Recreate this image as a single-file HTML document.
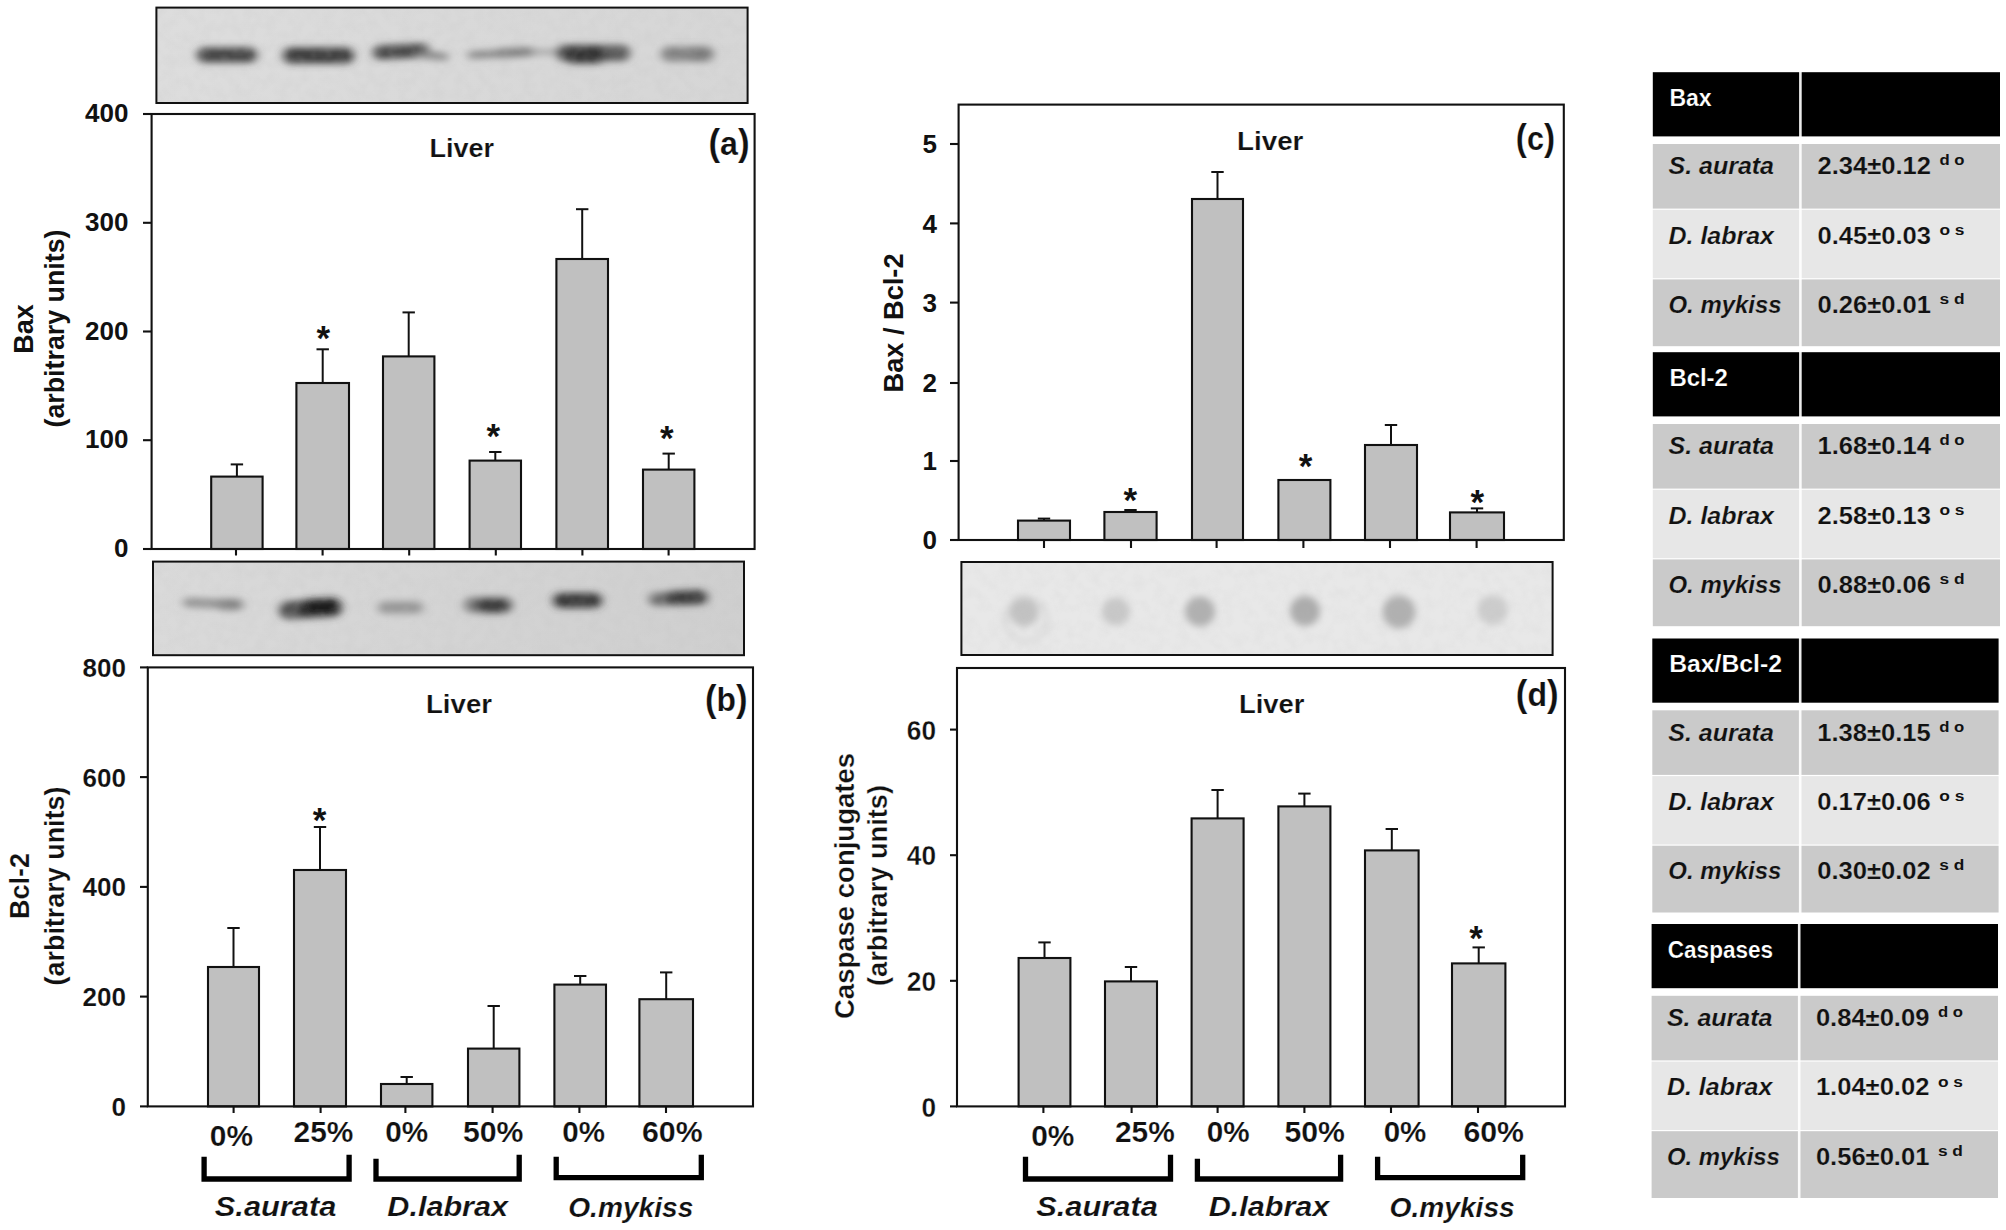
<!DOCTYPE html>
<html lang="en"><head><meta charset="utf-8"><title>Liver Bax, Bcl-2, Bax/Bcl-2 and caspase conjugates</title>
<style>
html,body{margin:0;padding:0;background:#fff;}
body{width:2006px;height:1230px;overflow:hidden;}
svg{display:block;font-family:"Liberation Sans",sans-serif;}
</style></head><body>
<svg width="2006" height="1230" viewBox="0 0 2006 1230">
<defs>
<filter id="b3" x="-30%" y="-80%" width="160%" height="260%"><feGaussianBlur stdDeviation="3.2 2.4"/></filter>
<filter id="b4" x="-30%" y="-80%" width="160%" height="260%"><feGaussianBlur stdDeviation="5 3.6"/></filter>
<filter id="b5" x="-50%" y="-50%" width="200%" height="200%"><feGaussianBlur stdDeviation="3.5"/></filter>
<filter id="noise" x="0" y="0" width="100%" height="100%"><feTurbulence type="fractalNoise" baseFrequency="0.09" numOctaves="2" seed="7" result="n"/><feColorMatrix type="matrix" values="0 0 0 0 0.5  0 0 0 0 0.5  0 0 0 0 0.5  0.55 0 0 0 -0.2"/></filter>
<linearGradient id="bga" x1="0" x2="1" y1="0" y2="0"><stop offset="0" stop-color="#dddddd"/><stop offset="0.5" stop-color="#d9d9d9"/><stop offset="1" stop-color="#d6d6d6"/></linearGradient>
<linearGradient id="bgb" x1="0" x2="1" y1="0" y2="0"><stop offset="0" stop-color="#dadada"/><stop offset="0.5" stop-color="#d4d4d4"/><stop offset="1" stop-color="#cfcfcf"/></linearGradient>
</defs>
<rect width="2006" height="1230" fill="#fff"/>
<rect x="156.4" y="7.6" width="591.2" height="95.4" fill="url(#bga)"/>
<g filter="url(#b4)">
<rect x="197" y="47.5" width="60" height="15" rx="7.5" fill="#444444" opacity="1" transform="rotate(0 227.0 55)"/>
<rect x="283" y="47.5" width="71" height="16" rx="8.0" fill="#3c3c3c" opacity="1" transform="rotate(0 318.5 55.5)"/>
<rect x="373" y="44.5" width="56" height="14" rx="7.0" fill="#464646" opacity="1" transform="rotate(-3 401.0 51.5)"/>
<rect x="416" y="52.0" width="32" height="7" rx="3.5" fill="#808080" opacity="1" transform="rotate(6 432.0 55.5)"/>
<rect x="468" y="50.0" width="68" height="7" rx="3.5" fill="#808080" opacity="1" transform="rotate(-3 502.0 53.5)"/>
<rect x="496" y="48.0" width="36" height="9" rx="4.5" fill="#7c7c7c" opacity="1" transform="rotate(-3 514.0 52.5)"/>
<rect x="532" y="49.5" width="30" height="5" rx="2.5" fill="#a0a0a0" opacity="1" transform="rotate(0 547.0 52)"/>
<rect x="556" y="45.0" width="74" height="16" rx="8.0" fill="#585858" opacity="1" transform="rotate(0 593.0 53)"/>
<rect x="564" y="45.5" width="42" height="18" rx="9.0" fill="#363636" opacity="1" transform="rotate(0 585.0 54.5)"/>
<rect x="661" y="46.5" width="53" height="15" rx="7.5" fill="#8a8a8a" opacity="1" transform="rotate(0 687.5 54)"/>
<rect x="688" y="47.0" width="23" height="14" rx="7.0" fill="#787878" opacity="1" transform="rotate(0 699.5 54)"/>
<rect x="663" y="47.5" width="19" height="13" rx="6.5" fill="#808080" opacity="1" transform="rotate(0 672.5 54)"/>
</g>
<rect x="156.4" y="7.6" width="591.2" height="95.4" fill="#fff" filter="url(#noise)" opacity="0.5"/>
<rect x="156.4" y="7.6" width="591.2" height="95.4" fill="none" stroke="#111" stroke-width="2.0" />
<line x1="236.9" y1="476.6" x2="236.9" y2="464.4" stroke="#111" stroke-width="2.0" stroke-linecap="butt"/>
<line x1="230.7" y1="464.4" x2="243.1" y2="464.4" stroke="#111" stroke-width="2.0" stroke-linecap="butt"/>
<rect x="211.2" y="476.6" width="51.4" height="72.4" fill="#c0c0c0" stroke="#111" stroke-width="2.1" />
<line x1="322.7" y1="383.0" x2="322.7" y2="349.3" stroke="#111" stroke-width="2.0" stroke-linecap="butt"/>
<line x1="316.5" y1="349.3" x2="328.9" y2="349.3" stroke="#111" stroke-width="2.0" stroke-linecap="butt"/>
<rect x="296.4" y="383.0" width="52.6" height="166.0" fill="#c0c0c0" stroke="#111" stroke-width="2.1" />
<line x1="408.7" y1="356.4" x2="408.7" y2="312.4" stroke="#111" stroke-width="2.0" stroke-linecap="butt"/>
<line x1="402.5" y1="312.4" x2="414.9" y2="312.4" stroke="#111" stroke-width="2.0" stroke-linecap="butt"/>
<rect x="383.0" y="356.4" width="51.4" height="192.6" fill="#c0c0c0" stroke="#111" stroke-width="2.1" />
<line x1="495.3" y1="460.6" x2="495.3" y2="452.0" stroke="#111" stroke-width="2.0" stroke-linecap="butt"/>
<line x1="489.1" y1="452.0" x2="501.5" y2="452.0" stroke="#111" stroke-width="2.0" stroke-linecap="butt"/>
<rect x="469.6" y="460.6" width="51.4" height="88.4" fill="#c0c0c0" stroke="#111" stroke-width="2.1" />
<line x1="582.2" y1="259.0" x2="582.2" y2="209.2" stroke="#111" stroke-width="2.0" stroke-linecap="butt"/>
<line x1="576.0" y1="209.2" x2="588.4" y2="209.2" stroke="#111" stroke-width="2.0" stroke-linecap="butt"/>
<rect x="556.4" y="259.0" width="51.6" height="290.0" fill="#c0c0c0" stroke="#111" stroke-width="2.1" />
<line x1="668.7" y1="469.6" x2="668.7" y2="453.6" stroke="#111" stroke-width="2.0" stroke-linecap="butt"/>
<line x1="662.5" y1="453.6" x2="674.9" y2="453.6" stroke="#111" stroke-width="2.0" stroke-linecap="butt"/>
<rect x="643.0" y="469.6" width="51.4" height="79.4" fill="#c0c0c0" stroke="#111" stroke-width="2.1" />
<rect x="151.6" y="114.0" width="603.0" height="435.0" fill="none" stroke="#111" stroke-width="2.1" />
<line x1="143.0" y1="114.0" x2="151.6" y2="114.0" stroke="#111" stroke-width="2.1" stroke-linecap="butt"/>
<text x="128.5" y="122.2" font-size="26" text-anchor="end" font-weight="bold" font-style="normal" fill="#111" >400</text>
<line x1="143.0" y1="222.8" x2="151.6" y2="222.8" stroke="#111" stroke-width="2.1" stroke-linecap="butt"/>
<text x="128.5" y="230.9" font-size="26" text-anchor="end" font-weight="bold" font-style="normal" fill="#111" >300</text>
<line x1="143.0" y1="331.5" x2="151.6" y2="331.5" stroke="#111" stroke-width="2.1" stroke-linecap="butt"/>
<text x="128.5" y="339.7" font-size="26" text-anchor="end" font-weight="bold" font-style="normal" fill="#111" >200</text>
<line x1="143.0" y1="440.2" x2="151.6" y2="440.2" stroke="#111" stroke-width="2.1" stroke-linecap="butt"/>
<text x="128.5" y="448.4" font-size="26" text-anchor="end" font-weight="bold" font-style="normal" fill="#111" >100</text>
<line x1="143.0" y1="549.0" x2="151.6" y2="549.0" stroke="#111" stroke-width="2.1" stroke-linecap="butt"/>
<text x="128.5" y="557.2" font-size="26" text-anchor="end" font-weight="bold" font-style="normal" fill="#111" >0</text>
<line x1="236.0" y1="549.0" x2="236.0" y2="555.5" stroke="#111" stroke-width="2.1" stroke-linecap="butt"/>
<line x1="322.6" y1="549.0" x2="322.6" y2="555.5" stroke="#111" stroke-width="2.1" stroke-linecap="butt"/>
<line x1="409.2" y1="549.0" x2="409.2" y2="555.5" stroke="#111" stroke-width="2.1" stroke-linecap="butt"/>
<line x1="495.8" y1="549.0" x2="495.8" y2="555.5" stroke="#111" stroke-width="2.1" stroke-linecap="butt"/>
<line x1="582.4" y1="549.0" x2="582.4" y2="555.5" stroke="#111" stroke-width="2.1" stroke-linecap="butt"/>
<line x1="668.6" y1="549.0" x2="668.6" y2="555.5" stroke="#111" stroke-width="2.1" stroke-linecap="butt"/>
<text x="323.2" y="350.2" font-size="35" text-anchor="middle" font-weight="bold" font-style="normal" fill="#111" >*</text>
<text x="493.3" y="447.7" font-size="35" text-anchor="middle" font-weight="bold" font-style="normal" fill="#111" >*</text>
<text x="666.7" y="449.7" font-size="35" text-anchor="middle" font-weight="bold" font-style="normal" fill="#111" >*</text>
<text x="429.4" y="157.0" font-size="26.5" text-anchor="start" font-weight="bold" font-style="normal" fill="#111" stroke="#fff" stroke-width="0.2" textLength="64.6" lengthAdjust="spacingAndGlyphs" >Liver</text>
<text x="708.4" y="155.3" font-size="34" text-anchor="start" font-weight="bold" font-style="normal" fill="#111" stroke="#fff" stroke-width="0.2" textLength="41.2" lengthAdjust="spacingAndGlyphs" ><tspan font-size="37">(</tspan>a<tspan font-size="37">)</tspan></text>
<text x="32.5" y="329.0" font-size="27" text-anchor="middle" font-weight="bold" font-style="normal" fill="#111" transform="rotate(-90 32.5 329.0)" >Bax</text>
<text x="64.0" y="328.5" font-size="27" text-anchor="middle" font-weight="bold" font-style="normal" fill="#111" textLength="198.0" lengthAdjust="spacingAndGlyphs" transform="rotate(-90 64.0 328.5)" >(arbitrary units)</text>
<rect x="153" y="561.6" width="591" height="93.6" fill="url(#bgb)"/>
<g filter="url(#b4)">
<rect x="183" y="599.0" width="60" height="9" rx="4.5" fill="#909090" opacity="1" transform="rotate(2 213.0 603.5)"/>
<rect x="218" y="599.0" width="25" height="11" rx="5.5" fill="#808080" opacity="1" transform="rotate(0 230.5 604.5)"/>
<rect x="279" y="600.0" width="63" height="18" rx="9.0" fill="#505050" opacity="1" transform="rotate(-3 310.5 609)"/>
<rect x="300" y="598.5" width="41" height="17" rx="8.5" fill="#1a1a1a" opacity="1" transform="rotate(-3 320.5 607)"/>
<rect x="378" y="601.5" width="45" height="12" rx="6.0" fill="#959595" opacity="1" transform="rotate(0 400.5 607.5)"/>
<rect x="464" y="597.5" width="49" height="15" rx="7.5" fill="#787878" opacity="1" transform="rotate(0 488.5 605)"/>
<rect x="476" y="598.0" width="33" height="15" rx="7.5" fill="#3e3e3e" opacity="1" transform="rotate(0 492.5 605.5)"/>
<rect x="553" y="593.0" width="49" height="15" rx="7.5" fill="#383838" opacity="1" transform="rotate(0 577.5 600.5)"/>
<rect x="649" y="592.0" width="59" height="13" rx="6.5" fill="#6a6a6a" opacity="1" transform="rotate(-2 678.5 598.5)"/>
<rect x="666" y="590.5" width="41" height="14" rx="7.0" fill="#3a3a3a" opacity="1" transform="rotate(-2 686.5 597.5)"/>
</g>
<rect x="153" y="561.6" width="591" height="93.6" fill="#fff" filter="url(#noise)" opacity="0.5"/>
<rect x="153.0" y="561.6" width="591.0" height="93.6" fill="none" stroke="#111" stroke-width="2.0" />
<line x1="233.5" y1="967.0" x2="233.5" y2="928.0" stroke="#111" stroke-width="2.0" stroke-linecap="butt"/>
<line x1="227.3" y1="928.0" x2="239.7" y2="928.0" stroke="#111" stroke-width="2.0" stroke-linecap="butt"/>
<rect x="208.0" y="967.0" width="51.0" height="139.4" fill="#c0c0c0" stroke="#111" stroke-width="2.1" />
<line x1="320.0" y1="870.0" x2="320.0" y2="827.0" stroke="#111" stroke-width="2.0" stroke-linecap="butt"/>
<line x1="313.8" y1="827.0" x2="326.2" y2="827.0" stroke="#111" stroke-width="2.0" stroke-linecap="butt"/>
<rect x="294.0" y="870.0" width="52.0" height="236.4" fill="#c0c0c0" stroke="#111" stroke-width="2.1" />
<line x1="406.7" y1="1084.0" x2="406.7" y2="1077.0" stroke="#111" stroke-width="2.0" stroke-linecap="butt"/>
<line x1="400.5" y1="1077.0" x2="412.9" y2="1077.0" stroke="#111" stroke-width="2.0" stroke-linecap="butt"/>
<rect x="381.0" y="1084.0" width="51.4" height="22.4" fill="#c0c0c0" stroke="#111" stroke-width="2.1" />
<line x1="493.7" y1="1048.6" x2="493.7" y2="1006.0" stroke="#111" stroke-width="2.0" stroke-linecap="butt"/>
<line x1="487.5" y1="1006.0" x2="499.9" y2="1006.0" stroke="#111" stroke-width="2.0" stroke-linecap="butt"/>
<rect x="468.0" y="1048.6" width="51.4" height="57.8" fill="#c0c0c0" stroke="#111" stroke-width="2.1" />
<line x1="580.2" y1="984.6" x2="580.2" y2="976.0" stroke="#111" stroke-width="2.0" stroke-linecap="butt"/>
<line x1="574.0" y1="976.0" x2="586.4" y2="976.0" stroke="#111" stroke-width="2.0" stroke-linecap="butt"/>
<rect x="554.4" y="984.6" width="51.6" height="121.8" fill="#c0c0c0" stroke="#111" stroke-width="2.1" />
<line x1="666.2" y1="999.2" x2="666.2" y2="972.4" stroke="#111" stroke-width="2.0" stroke-linecap="butt"/>
<line x1="660.0" y1="972.4" x2="672.4" y2="972.4" stroke="#111" stroke-width="2.0" stroke-linecap="butt"/>
<rect x="639.4" y="999.2" width="53.6" height="107.2" fill="#c0c0c0" stroke="#111" stroke-width="2.1" />
<rect x="147.8" y="667.4" width="605.2" height="439.0" fill="none" stroke="#111" stroke-width="2.1" />
<line x1="140.0" y1="667.4" x2="147.8" y2="667.4" stroke="#111" stroke-width="2.1" stroke-linecap="butt"/>
<text x="126.0" y="676.8" font-size="26" text-anchor="end" font-weight="bold" font-style="normal" fill="#111" stroke="#fff" stroke-width="0.15" >800</text>
<line x1="140.0" y1="777.1" x2="147.8" y2="777.1" stroke="#111" stroke-width="2.1" stroke-linecap="butt"/>
<text x="126.0" y="786.5" font-size="26" text-anchor="end" font-weight="bold" font-style="normal" fill="#111" stroke="#fff" stroke-width="0.15" >600</text>
<line x1="140.0" y1="886.9" x2="147.8" y2="886.9" stroke="#111" stroke-width="2.1" stroke-linecap="butt"/>
<text x="126.0" y="896.3" font-size="26" text-anchor="end" font-weight="bold" font-style="normal" fill="#111" stroke="#fff" stroke-width="0.15" >400</text>
<line x1="140.0" y1="996.6" x2="147.8" y2="996.6" stroke="#111" stroke-width="2.1" stroke-linecap="butt"/>
<text x="126.0" y="1006.0" font-size="26" text-anchor="end" font-weight="bold" font-style="normal" fill="#111" stroke="#fff" stroke-width="0.15" >200</text>
<line x1="140.0" y1="1106.4" x2="147.8" y2="1106.4" stroke="#111" stroke-width="2.1" stroke-linecap="butt"/>
<text x="126.0" y="1115.8" font-size="26" text-anchor="end" font-weight="bold" font-style="normal" fill="#111" stroke="#fff" stroke-width="0.15" >0</text>
<line x1="233.6" y1="1106.4" x2="233.6" y2="1113.0" stroke="#111" stroke-width="2.1" stroke-linecap="butt"/>
<line x1="320.6" y1="1106.4" x2="320.6" y2="1113.0" stroke="#111" stroke-width="2.1" stroke-linecap="butt"/>
<line x1="405.4" y1="1106.4" x2="405.4" y2="1113.0" stroke="#111" stroke-width="2.1" stroke-linecap="butt"/>
<line x1="492.6" y1="1106.4" x2="492.6" y2="1113.0" stroke="#111" stroke-width="2.1" stroke-linecap="butt"/>
<line x1="579.4" y1="1106.4" x2="579.4" y2="1113.0" stroke="#111" stroke-width="2.1" stroke-linecap="butt"/>
<line x1="666.0" y1="1106.4" x2="666.0" y2="1113.0" stroke="#111" stroke-width="2.1" stroke-linecap="butt"/>
<text x="319.6" y="831.6" font-size="35" text-anchor="middle" font-weight="bold" font-style="normal" fill="#111" >*</text>
<text x="426.0" y="713.0" font-size="26.5" text-anchor="start" font-weight="bold" font-style="normal" fill="#111" stroke="#fff" stroke-width="0.2" textLength="66.0" lengthAdjust="spacingAndGlyphs" >Liver</text>
<text x="705.0" y="711.3" font-size="34" text-anchor="start" font-weight="bold" font-style="normal" fill="#111" stroke="#fff" stroke-width="0.2" textLength="42.5" lengthAdjust="spacingAndGlyphs" ><tspan font-size="37">(</tspan>b<tspan font-size="37">)</tspan></text>
<text x="29.2" y="886.0" font-size="27" text-anchor="middle" font-weight="bold" font-style="normal" fill="#111" stroke="#fff" stroke-width="0.15" textLength="66.0" lengthAdjust="spacingAndGlyphs" transform="rotate(-90 29.2 886.0)" >Bcl-2</text>
<text x="64.3" y="886.0" font-size="27" text-anchor="middle" font-weight="bold" font-style="normal" fill="#111" stroke="#fff" stroke-width="0.15" textLength="199.0" lengthAdjust="spacingAndGlyphs" transform="rotate(-90 64.3 886.0)" >(arbitrary units)</text>
<line x1="1044.0" y1="520.6" x2="1044.0" y2="518.6" stroke="#111" stroke-width="2.0" stroke-linecap="butt"/>
<line x1="1037.8" y1="518.6" x2="1050.2" y2="518.6" stroke="#111" stroke-width="2.0" stroke-linecap="butt"/>
<rect x="1018.0" y="520.6" width="52.0" height="19.4" fill="#c0c0c0" stroke="#111" stroke-width="2.1" />
<line x1="1130.5" y1="512.0" x2="1130.5" y2="510.0" stroke="#111" stroke-width="2.0" stroke-linecap="butt"/>
<line x1="1124.3" y1="510.0" x2="1136.7" y2="510.0" stroke="#111" stroke-width="2.0" stroke-linecap="butt"/>
<rect x="1104.4" y="512.0" width="52.2" height="28.0" fill="#c0c0c0" stroke="#111" stroke-width="2.1" />
<line x1="1217.5" y1="199.0" x2="1217.5" y2="172.0" stroke="#111" stroke-width="2.0" stroke-linecap="butt"/>
<line x1="1211.3" y1="172.0" x2="1223.7" y2="172.0" stroke="#111" stroke-width="2.0" stroke-linecap="butt"/>
<rect x="1192.0" y="199.0" width="51.0" height="341.0" fill="#c0c0c0" stroke="#111" stroke-width="2.1" />
<rect x="1278.4" y="480.0" width="52.0" height="60.0" fill="#c0c0c0" stroke="#111" stroke-width="2.1" />
<line x1="1391.0" y1="445.0" x2="1391.0" y2="425.0" stroke="#111" stroke-width="2.0" stroke-linecap="butt"/>
<line x1="1384.8" y1="425.0" x2="1397.2" y2="425.0" stroke="#111" stroke-width="2.0" stroke-linecap="butt"/>
<rect x="1365.0" y="445.0" width="52.0" height="95.0" fill="#c0c0c0" stroke="#111" stroke-width="2.1" />
<line x1="1477.0" y1="512.4" x2="1477.0" y2="508.4" stroke="#111" stroke-width="2.0" stroke-linecap="butt"/>
<line x1="1470.8" y1="508.4" x2="1483.2" y2="508.4" stroke="#111" stroke-width="2.0" stroke-linecap="butt"/>
<rect x="1450.0" y="512.4" width="54.0" height="27.6" fill="#c0c0c0" stroke="#111" stroke-width="2.1" />
<rect x="958.6" y="104.6" width="605.2" height="435.4" fill="none" stroke="#111" stroke-width="2.1" />
<line x1="950.0" y1="144.0" x2="958.6" y2="144.0" stroke="#111" stroke-width="2.1" stroke-linecap="butt"/>
<text x="937.0" y="153.4" font-size="26" text-anchor="end" font-weight="bold" font-style="normal" fill="#111" >5</text>
<line x1="950.0" y1="223.4" x2="958.6" y2="223.4" stroke="#111" stroke-width="2.1" stroke-linecap="butt"/>
<text x="937.0" y="232.8" font-size="26" text-anchor="end" font-weight="bold" font-style="normal" fill="#111" >4</text>
<line x1="950.0" y1="302.6" x2="958.6" y2="302.6" stroke="#111" stroke-width="2.1" stroke-linecap="butt"/>
<text x="937.0" y="312.0" font-size="26" text-anchor="end" font-weight="bold" font-style="normal" fill="#111" >3</text>
<line x1="950.0" y1="383.0" x2="958.6" y2="383.0" stroke="#111" stroke-width="2.1" stroke-linecap="butt"/>
<text x="937.0" y="392.4" font-size="26" text-anchor="end" font-weight="bold" font-style="normal" fill="#111" >2</text>
<line x1="950.0" y1="461.0" x2="958.6" y2="461.0" stroke="#111" stroke-width="2.1" stroke-linecap="butt"/>
<text x="937.0" y="470.4" font-size="26" text-anchor="end" font-weight="bold" font-style="normal" fill="#111" >1</text>
<line x1="950.0" y1="540.0" x2="958.6" y2="540.0" stroke="#111" stroke-width="2.1" stroke-linecap="butt"/>
<text x="937.0" y="549.4" font-size="26" text-anchor="end" font-weight="bold" font-style="normal" fill="#111" >0</text>
<line x1="1044.0" y1="540.0" x2="1044.0" y2="548.0" stroke="#111" stroke-width="2.1" stroke-linecap="butt"/>
<line x1="1131.0" y1="540.0" x2="1131.0" y2="548.0" stroke="#111" stroke-width="2.1" stroke-linecap="butt"/>
<line x1="1216.6" y1="540.0" x2="1216.6" y2="548.0" stroke="#111" stroke-width="2.1" stroke-linecap="butt"/>
<line x1="1303.4" y1="540.0" x2="1303.4" y2="548.0" stroke="#111" stroke-width="2.1" stroke-linecap="butt"/>
<line x1="1390.0" y1="540.0" x2="1390.0" y2="548.0" stroke="#111" stroke-width="2.1" stroke-linecap="butt"/>
<line x1="1476.6" y1="540.0" x2="1476.6" y2="548.0" stroke="#111" stroke-width="2.1" stroke-linecap="butt"/>
<text x="1130.2" y="511.5" font-size="35" text-anchor="middle" font-weight="bold" font-style="normal" fill="#111" >*</text>
<text x="1305.6" y="477.9" font-size="35" text-anchor="middle" font-weight="bold" font-style="normal" fill="#111" >*</text>
<text x="1477.2" y="513.7" font-size="35" text-anchor="middle" font-weight="bold" font-style="normal" fill="#111" >*</text>
<text x="1237.0" y="150.0" font-size="26.5" text-anchor="start" font-weight="bold" font-style="normal" fill="#111" stroke="#fff" stroke-width="0.2" textLength="66.4" lengthAdjust="spacingAndGlyphs" >Liver</text>
<text x="1515.8" y="150.3" font-size="34" text-anchor="start" font-weight="bold" font-style="normal" fill="#111" stroke="#fff" stroke-width="0.2" textLength="39.2" lengthAdjust="spacingAndGlyphs" ><tspan font-size="37">(</tspan>c<tspan font-size="37">)</tspan></text>
<text x="903.0" y="323.0" font-size="28" text-anchor="middle" font-weight="bold" font-style="normal" fill="#111" textLength="139.0" lengthAdjust="spacingAndGlyphs" transform="rotate(-90 903.0 323.0)" >Bax / Bcl-2</text>
<rect x="961.4" y="562" width="591.2" height="93" fill="#e8e8e8"/>
<g filter="url(#b5)">
<circle cx="1026" cy="620" r="21" fill="none" stroke="#dcdcdc" stroke-width="6"/>
<circle cx="1024" cy="612" r="14.5" fill="#c2c2c2"/>
<circle cx="1116" cy="611.5" r="14" fill="#c8c8c8"/>
<circle cx="1200" cy="611.5" r="15" fill="#b0b0b0"/>
<circle cx="1305" cy="611" r="15" fill="#acacac"/>
<circle cx="1399" cy="612" r="16.5" fill="#b0b0b0"/>
<circle cx="1492.6" cy="610" r="15" fill="#cccccc"/>
</g>
<rect x="961.4" y="562" width="591.2" height="93" fill="#fff" filter="url(#noise)" opacity="0.35"/>
<rect x="961.4" y="562.0" width="591.2" height="93.0" fill="none" stroke="#111" stroke-width="2.0" />
<line x1="1044.5" y1="958.0" x2="1044.5" y2="942.4" stroke="#111" stroke-width="2.0" stroke-linecap="butt"/>
<line x1="1038.3" y1="942.4" x2="1050.7" y2="942.4" stroke="#111" stroke-width="2.0" stroke-linecap="butt"/>
<rect x="1018.6" y="958.0" width="51.8" height="148.4" fill="#c0c0c0" stroke="#111" stroke-width="2.1" />
<line x1="1131.0" y1="981.4" x2="1131.0" y2="967.0" stroke="#111" stroke-width="2.0" stroke-linecap="butt"/>
<line x1="1124.8" y1="967.0" x2="1137.2" y2="967.0" stroke="#111" stroke-width="2.0" stroke-linecap="butt"/>
<rect x="1105.0" y="981.4" width="52.0" height="125.0" fill="#c0c0c0" stroke="#111" stroke-width="2.1" />
<line x1="1217.6" y1="818.4" x2="1217.6" y2="790.0" stroke="#111" stroke-width="2.0" stroke-linecap="butt"/>
<line x1="1211.4" y1="790.0" x2="1223.8" y2="790.0" stroke="#111" stroke-width="2.0" stroke-linecap="butt"/>
<rect x="1191.6" y="818.4" width="52.0" height="288.0" fill="#c0c0c0" stroke="#111" stroke-width="2.1" />
<line x1="1304.4" y1="806.4" x2="1304.4" y2="793.6" stroke="#111" stroke-width="2.0" stroke-linecap="butt"/>
<line x1="1298.2" y1="793.6" x2="1310.6" y2="793.6" stroke="#111" stroke-width="2.0" stroke-linecap="butt"/>
<rect x="1278.4" y="806.4" width="52.0" height="300.0" fill="#c0c0c0" stroke="#111" stroke-width="2.1" />
<line x1="1391.8" y1="850.4" x2="1391.8" y2="829.0" stroke="#111" stroke-width="2.0" stroke-linecap="butt"/>
<line x1="1385.6" y1="829.0" x2="1398.0" y2="829.0" stroke="#111" stroke-width="2.0" stroke-linecap="butt"/>
<rect x="1365.0" y="850.4" width="53.6" height="256.0" fill="#c0c0c0" stroke="#111" stroke-width="2.1" />
<line x1="1478.7" y1="963.4" x2="1478.7" y2="947.4" stroke="#111" stroke-width="2.0" stroke-linecap="butt"/>
<line x1="1472.5" y1="947.4" x2="1484.9" y2="947.4" stroke="#111" stroke-width="2.0" stroke-linecap="butt"/>
<rect x="1452.0" y="963.4" width="53.4" height="143.0" fill="#c0c0c0" stroke="#111" stroke-width="2.1" />
<rect x="957.0" y="668.0" width="608.0" height="438.4" fill="none" stroke="#111" stroke-width="2.1" />
<line x1="950.0" y1="729.6" x2="957.0" y2="729.6" stroke="#111" stroke-width="2.1" stroke-linecap="butt"/>
<text x="936.0" y="739.7" font-size="28" text-anchor="end" font-weight="bold" font-style="normal" fill="#111" stroke="#fff" stroke-width="0.3" textLength="29.2" lengthAdjust="spacingAndGlyphs" >60</text>
<line x1="950.0" y1="855.2" x2="957.0" y2="855.2" stroke="#111" stroke-width="2.1" stroke-linecap="butt"/>
<text x="936.0" y="865.3" font-size="28" text-anchor="end" font-weight="bold" font-style="normal" fill="#111" stroke="#fff" stroke-width="0.3" textLength="29.2" lengthAdjust="spacingAndGlyphs" >40</text>
<line x1="950.0" y1="980.8" x2="957.0" y2="980.8" stroke="#111" stroke-width="2.1" stroke-linecap="butt"/>
<text x="936.0" y="990.9" font-size="28" text-anchor="end" font-weight="bold" font-style="normal" fill="#111" stroke="#fff" stroke-width="0.3" textLength="29.2" lengthAdjust="spacingAndGlyphs" >20</text>
<line x1="950.0" y1="1106.4" x2="957.0" y2="1106.4" stroke="#111" stroke-width="2.1" stroke-linecap="butt"/>
<text x="936.0" y="1116.5" font-size="28" text-anchor="end" font-weight="bold" font-style="normal" fill="#111" stroke="#fff" stroke-width="0.3" textLength="14.6" lengthAdjust="spacingAndGlyphs" >0</text>
<line x1="1043.4" y1="1106.4" x2="1043.4" y2="1113.0" stroke="#111" stroke-width="2.1" stroke-linecap="butt"/>
<line x1="1131.6" y1="1106.4" x2="1131.6" y2="1113.0" stroke="#111" stroke-width="2.1" stroke-linecap="butt"/>
<line x1="1217.6" y1="1106.4" x2="1217.6" y2="1113.0" stroke="#111" stroke-width="2.1" stroke-linecap="butt"/>
<line x1="1304.4" y1="1106.4" x2="1304.4" y2="1113.0" stroke="#111" stroke-width="2.1" stroke-linecap="butt"/>
<line x1="1391.0" y1="1106.4" x2="1391.0" y2="1113.0" stroke="#111" stroke-width="2.1" stroke-linecap="butt"/>
<line x1="1478.0" y1="1106.4" x2="1478.0" y2="1113.0" stroke="#111" stroke-width="2.1" stroke-linecap="butt"/>
<text x="1476.0" y="949.5" font-size="35" text-anchor="middle" font-weight="bold" font-style="normal" fill="#111" >*</text>
<text x="1239.0" y="712.7" font-size="26.5" text-anchor="start" font-weight="bold" font-style="normal" fill="#111" stroke="#fff" stroke-width="0.2" textLength="65.5" lengthAdjust="spacingAndGlyphs" >Liver</text>
<text x="1515.8" y="706.0" font-size="34" text-anchor="start" font-weight="bold" font-style="normal" fill="#111" stroke="#fff" stroke-width="0.2" textLength="42.8" lengthAdjust="spacingAndGlyphs" ><tspan font-size="37">(</tspan>d<tspan font-size="37">)</tspan></text>
<text x="854.0" y="886.0" font-size="27" text-anchor="middle" font-weight="bold" font-style="normal" fill="#111" stroke="#fff" stroke-width="0.3" textLength="266.0" lengthAdjust="spacingAndGlyphs" transform="rotate(-90 854.0 886.0)" >Caspase conjugates</text>
<text x="887.0" y="885.5" font-size="27" text-anchor="middle" font-weight="bold" font-style="normal" fill="#111" stroke="#fff" stroke-width="0.3" textLength="201.0" lengthAdjust="spacingAndGlyphs" transform="rotate(-90 887.0 885.5)" >(arbitrary units)</text>
<text x="209.8" y="1145.5" font-size="29.5" text-anchor="start" font-weight="bold" font-style="normal" fill="#111" stroke="#fff" stroke-width="0.2" textLength="43.2" lengthAdjust="spacingAndGlyphs" >0%</text>
<text x="293.6" y="1142.0" font-size="29.5" text-anchor="start" font-weight="bold" font-style="normal" fill="#111" stroke="#fff" stroke-width="0.2" textLength="59.8" lengthAdjust="spacingAndGlyphs" >25%</text>
<text x="385.3" y="1142.0" font-size="29.5" text-anchor="start" font-weight="bold" font-style="normal" fill="#111" stroke="#fff" stroke-width="0.2" textLength="42.9" lengthAdjust="spacingAndGlyphs" >0%</text>
<text x="463.0" y="1142.0" font-size="29.5" text-anchor="start" font-weight="bold" font-style="normal" fill="#111" stroke="#fff" stroke-width="0.2" textLength="60.5" lengthAdjust="spacingAndGlyphs" >50%</text>
<text x="562.3" y="1142.0" font-size="29.5" text-anchor="start" font-weight="bold" font-style="normal" fill="#111" stroke="#fff" stroke-width="0.2" textLength="42.7" lengthAdjust="spacingAndGlyphs" >0%</text>
<text x="642.0" y="1142.0" font-size="29.5" text-anchor="start" font-weight="bold" font-style="normal" fill="#111" stroke="#fff" stroke-width="0.2" textLength="60.6" lengthAdjust="spacingAndGlyphs" >60%</text>
<path d="M204.1 1156.8 V1179 H349.1 V1154.8" fill="none" stroke="#000" stroke-width="5.3" stroke-linejoin="miter"/>
<path d="M376.0 1158.8 V1179 H519.2 V1154.8" fill="none" stroke="#000" stroke-width="5.3" stroke-linejoin="miter"/>
<path d="M556.2 1156.8 V1177.6 H701.3 V1154.8" fill="none" stroke="#000" stroke-width="5.3" stroke-linejoin="miter"/>
<text x="214.8" y="1215.7" font-size="28" text-anchor="start" font-weight="bold" font-style="italic" fill="#111" stroke="#fff" stroke-width="0.2" textLength="121.6" lengthAdjust="spacingAndGlyphs" >S.aurata</text>
<text x="387.3" y="1215.7" font-size="28" text-anchor="start" font-weight="bold" font-style="italic" fill="#111" stroke="#fff" stroke-width="0.2" textLength="120.7" lengthAdjust="spacingAndGlyphs" >D.labrax</text>
<text x="568.2" y="1216.6" font-size="28" text-anchor="start" font-weight="bold" font-style="italic" fill="#111" stroke="#fff" stroke-width="0.2" textLength="125.1" lengthAdjust="spacingAndGlyphs" >O.mykiss</text>
<text x="1031.2" y="1145.5" font-size="29.5" text-anchor="start" font-weight="bold" font-style="normal" fill="#111" stroke="#fff" stroke-width="0.2" textLength="43.2" lengthAdjust="spacingAndGlyphs" >0%</text>
<text x="1115.0" y="1142.0" font-size="29.5" text-anchor="start" font-weight="bold" font-style="normal" fill="#111" stroke="#fff" stroke-width="0.2" textLength="59.8" lengthAdjust="spacingAndGlyphs" >25%</text>
<text x="1206.7" y="1142.0" font-size="29.5" text-anchor="start" font-weight="bold" font-style="normal" fill="#111" stroke="#fff" stroke-width="0.2" textLength="42.9" lengthAdjust="spacingAndGlyphs" >0%</text>
<text x="1284.4" y="1142.0" font-size="29.5" text-anchor="start" font-weight="bold" font-style="normal" fill="#111" stroke="#fff" stroke-width="0.2" textLength="60.5" lengthAdjust="spacingAndGlyphs" >50%</text>
<text x="1383.7" y="1142.0" font-size="29.5" text-anchor="start" font-weight="bold" font-style="normal" fill="#111" stroke="#fff" stroke-width="0.2" textLength="42.7" lengthAdjust="spacingAndGlyphs" >0%</text>
<text x="1463.4" y="1142.0" font-size="29.5" text-anchor="start" font-weight="bold" font-style="normal" fill="#111" stroke="#fff" stroke-width="0.2" textLength="60.6" lengthAdjust="spacingAndGlyphs" >60%</text>
<path d="M1025.5 1156.8 V1179 H1170.5 V1154.8" fill="none" stroke="#000" stroke-width="5.3" stroke-linejoin="miter"/>
<path d="M1197.4 1158.8 V1179 H1340.6 V1154.8" fill="none" stroke="#000" stroke-width="5.3" stroke-linejoin="miter"/>
<path d="M1377.6 1156.8 V1177.6 H1522.7 V1154.8" fill="none" stroke="#000" stroke-width="5.3" stroke-linejoin="miter"/>
<text x="1036.2" y="1215.7" font-size="28" text-anchor="start" font-weight="bold" font-style="italic" fill="#111" stroke="#fff" stroke-width="0.2" textLength="121.6" lengthAdjust="spacingAndGlyphs" >S.aurata</text>
<text x="1208.7" y="1215.7" font-size="28" text-anchor="start" font-weight="bold" font-style="italic" fill="#111" stroke="#fff" stroke-width="0.2" textLength="120.7" lengthAdjust="spacingAndGlyphs" >D.labrax</text>
<text x="1389.6" y="1216.6" font-size="28" text-anchor="start" font-weight="bold" font-style="italic" fill="#111" stroke="#fff" stroke-width="0.2" textLength="125.1" lengthAdjust="spacingAndGlyphs" >O.mykiss</text>
<rect x="1652.8" y="72.2" width="347.2" height="64.2" fill="#000"/>
<rect x="1652.8" y="144.0" width="347.2" height="64.6" fill="#cacaca"/>
<rect x="1652.8" y="209.8" width="347.2" height="68.4" fill="#e7e7e7"/>
<rect x="1652.8" y="279.4" width="347.2" height="66.8" fill="#cacaca"/>
<rect x="1799.1" y="70.0" width="2.6" height="279" fill="#fff" opacity="0.92"/>
<text x="1669.4" y="106.0" font-size="24.5" text-anchor="start" font-weight="bold" font-style="normal" fill="#fff" stroke="#000" stroke-width="0.2" textLength="42.3" lengthAdjust="spacingAndGlyphs" >Bax</text>
<text x="1668.5" y="174.2" font-size="24.5" text-anchor="start" font-weight="bold" font-style="italic" fill="#111" stroke="#cacaca" stroke-width="0.2" textLength="105.5" lengthAdjust="spacingAndGlyphs" >S. aurata</text>
<text x="1817.5" y="174.2" font-size="24.5" text-anchor="start" font-weight="bold" font-style="normal" fill="#111" stroke="#cacaca" stroke-width="0.2" textLength="113.5" lengthAdjust="spacingAndGlyphs" >2.34±0.12</text>
<text x="1939.5" y="165.4" font-size="14.5" text-anchor="start" font-weight="bold" font-style="normal" fill="#111" textLength="25.0" lengthAdjust="spacingAndGlyphs" >d o</text>
<text x="1668.5" y="243.5" font-size="24.5" text-anchor="start" font-weight="bold" font-style="italic" fill="#111" stroke="#e7e7e7" stroke-width="0.2" textLength="105.5" lengthAdjust="spacingAndGlyphs" >D. labrax</text>
<text x="1817.5" y="243.5" font-size="24.5" text-anchor="start" font-weight="bold" font-style="normal" fill="#111" stroke="#e7e7e7" stroke-width="0.2" textLength="113.5" lengthAdjust="spacingAndGlyphs" >0.45±0.03</text>
<text x="1939.5" y="234.7" font-size="14.5" text-anchor="start" font-weight="bold" font-style="normal" fill="#111" textLength="25.0" lengthAdjust="spacingAndGlyphs" >o s</text>
<text x="1668.5" y="312.8" font-size="24.5" text-anchor="start" font-weight="bold" font-style="italic" fill="#111" stroke="#cacaca" stroke-width="0.2" textLength="113.0" lengthAdjust="spacingAndGlyphs" >O. mykiss</text>
<text x="1817.5" y="312.8" font-size="24.5" text-anchor="start" font-weight="bold" font-style="normal" fill="#111" stroke="#cacaca" stroke-width="0.2" textLength="113.5" lengthAdjust="spacingAndGlyphs" >0.26±0.01</text>
<text x="1939.5" y="304.0" font-size="14.5" text-anchor="start" font-weight="bold" font-style="normal" fill="#111" textLength="25.0" lengthAdjust="spacingAndGlyphs" >s d</text>
<rect x="1652.8" y="352.2" width="347.2" height="64.2" fill="#000"/>
<rect x="1652.8" y="424.0" width="347.2" height="64.6" fill="#cacaca"/>
<rect x="1652.8" y="489.8" width="347.2" height="68.4" fill="#e7e7e7"/>
<rect x="1652.8" y="559.4" width="347.2" height="66.8" fill="#cacaca"/>
<rect x="1799.1" y="350.0" width="2.6" height="279" fill="#fff" opacity="0.92"/>
<text x="1669.4" y="386.0" font-size="24.5" text-anchor="start" font-weight="bold" font-style="normal" fill="#fff" stroke="#000" stroke-width="0.2" textLength="58.5" lengthAdjust="spacingAndGlyphs" >Bcl-2</text>
<text x="1668.5" y="454.2" font-size="24.5" text-anchor="start" font-weight="bold" font-style="italic" fill="#111" stroke="#cacaca" stroke-width="0.2" textLength="105.5" lengthAdjust="spacingAndGlyphs" >S. aurata</text>
<text x="1817.5" y="454.2" font-size="24.5" text-anchor="start" font-weight="bold" font-style="normal" fill="#111" stroke="#cacaca" stroke-width="0.2" textLength="113.5" lengthAdjust="spacingAndGlyphs" >1.68±0.14</text>
<text x="1939.5" y="445.4" font-size="14.5" text-anchor="start" font-weight="bold" font-style="normal" fill="#111" textLength="25.0" lengthAdjust="spacingAndGlyphs" >d o</text>
<text x="1668.5" y="523.5" font-size="24.5" text-anchor="start" font-weight="bold" font-style="italic" fill="#111" stroke="#e7e7e7" stroke-width="0.2" textLength="105.5" lengthAdjust="spacingAndGlyphs" >D. labrax</text>
<text x="1817.5" y="523.5" font-size="24.5" text-anchor="start" font-weight="bold" font-style="normal" fill="#111" stroke="#e7e7e7" stroke-width="0.2" textLength="113.5" lengthAdjust="spacingAndGlyphs" >2.58±0.13</text>
<text x="1939.5" y="514.7" font-size="14.5" text-anchor="start" font-weight="bold" font-style="normal" fill="#111" textLength="25.0" lengthAdjust="spacingAndGlyphs" >o s</text>
<text x="1668.5" y="592.8" font-size="24.5" text-anchor="start" font-weight="bold" font-style="italic" fill="#111" stroke="#cacaca" stroke-width="0.2" textLength="113.0" lengthAdjust="spacingAndGlyphs" >O. mykiss</text>
<text x="1817.5" y="592.8" font-size="24.5" text-anchor="start" font-weight="bold" font-style="normal" fill="#111" stroke="#cacaca" stroke-width="0.2" textLength="113.5" lengthAdjust="spacingAndGlyphs" >0.88±0.06</text>
<text x="1939.5" y="584.0" font-size="14.5" text-anchor="start" font-weight="bold" font-style="normal" fill="#111" textLength="25.0" lengthAdjust="spacingAndGlyphs" >s d</text>
<rect x="1652.3" y="638.5" width="346.3" height="64.2" fill="#000"/>
<rect x="1652.3" y="710.3" width="346.3" height="64.6" fill="#cacaca"/>
<rect x="1652.3" y="776.1" width="346.3" height="68.4" fill="#e7e7e7"/>
<rect x="1652.3" y="845.7" width="346.3" height="66.8" fill="#cacaca"/>
<rect x="1798.9" y="636.3" width="2.6" height="279" fill="#fff" opacity="0.92"/>
<text x="1669.2" y="672.3" font-size="24.5" text-anchor="start" font-weight="bold" font-style="normal" fill="#fff" stroke="#000" stroke-width="0.2" textLength="112.8" lengthAdjust="spacingAndGlyphs" >Bax/Bcl-2</text>
<text x="1668.3" y="740.5" font-size="24.5" text-anchor="start" font-weight="bold" font-style="italic" fill="#111" stroke="#cacaca" stroke-width="0.2" textLength="105.5" lengthAdjust="spacingAndGlyphs" >S. aurata</text>
<text x="1817.3" y="740.5" font-size="24.5" text-anchor="start" font-weight="bold" font-style="normal" fill="#111" stroke="#cacaca" stroke-width="0.2" textLength="113.5" lengthAdjust="spacingAndGlyphs" >1.38±0.15</text>
<text x="1939.3" y="731.7" font-size="14.5" text-anchor="start" font-weight="bold" font-style="normal" fill="#111" textLength="25.0" lengthAdjust="spacingAndGlyphs" >d o</text>
<text x="1668.3" y="809.8" font-size="24.5" text-anchor="start" font-weight="bold" font-style="italic" fill="#111" stroke="#e7e7e7" stroke-width="0.2" textLength="105.5" lengthAdjust="spacingAndGlyphs" >D. labrax</text>
<text x="1817.3" y="809.8" font-size="24.5" text-anchor="start" font-weight="bold" font-style="normal" fill="#111" stroke="#e7e7e7" stroke-width="0.2" textLength="113.5" lengthAdjust="spacingAndGlyphs" >0.17±0.06</text>
<text x="1939.3" y="801.0" font-size="14.5" text-anchor="start" font-weight="bold" font-style="normal" fill="#111" textLength="25.0" lengthAdjust="spacingAndGlyphs" >o s</text>
<text x="1668.3" y="879.1" font-size="24.5" text-anchor="start" font-weight="bold" font-style="italic" fill="#111" stroke="#cacaca" stroke-width="0.2" textLength="113.0" lengthAdjust="spacingAndGlyphs" >O. mykiss</text>
<text x="1817.3" y="879.1" font-size="24.5" text-anchor="start" font-weight="bold" font-style="normal" fill="#111" stroke="#cacaca" stroke-width="0.2" textLength="113.5" lengthAdjust="spacingAndGlyphs" >0.30±0.02</text>
<text x="1939.3" y="870.3" font-size="14.5" text-anchor="start" font-weight="bold" font-style="normal" fill="#111" textLength="25.0" lengthAdjust="spacingAndGlyphs" >s d</text>
<rect x="1651.6" y="924.0" width="346.4" height="64.2" fill="#000"/>
<rect x="1651.6" y="995.8" width="346.4" height="64.6" fill="#cacaca"/>
<rect x="1651.6" y="1061.6" width="346.4" height="68.4" fill="#e7e7e7"/>
<rect x="1651.6" y="1131.2" width="346.4" height="66.8" fill="#cacaca"/>
<rect x="1797.9" y="921.8" width="2.6" height="279" fill="#fff" opacity="0.92"/>
<text x="1667.8" y="957.8" font-size="24.5" text-anchor="start" font-weight="bold" font-style="normal" fill="#fff" stroke="#000" stroke-width="0.2" textLength="105.3" lengthAdjust="spacingAndGlyphs" >Caspases</text>
<text x="1666.9" y="1026.0" font-size="24.5" text-anchor="start" font-weight="bold" font-style="italic" fill="#111" stroke="#cacaca" stroke-width="0.2" textLength="105.5" lengthAdjust="spacingAndGlyphs" >S. aurata</text>
<text x="1815.9" y="1026.0" font-size="24.5" text-anchor="start" font-weight="bold" font-style="normal" fill="#111" stroke="#cacaca" stroke-width="0.2" textLength="113.5" lengthAdjust="spacingAndGlyphs" >0.84±0.09</text>
<text x="1937.9" y="1017.2" font-size="14.5" text-anchor="start" font-weight="bold" font-style="normal" fill="#111" textLength="25.0" lengthAdjust="spacingAndGlyphs" >d o</text>
<text x="1666.9" y="1095.3" font-size="24.5" text-anchor="start" font-weight="bold" font-style="italic" fill="#111" stroke="#e7e7e7" stroke-width="0.2" textLength="105.5" lengthAdjust="spacingAndGlyphs" >D. labrax</text>
<text x="1815.9" y="1095.3" font-size="24.5" text-anchor="start" font-weight="bold" font-style="normal" fill="#111" stroke="#e7e7e7" stroke-width="0.2" textLength="113.5" lengthAdjust="spacingAndGlyphs" >1.04±0.02</text>
<text x="1937.9" y="1086.5" font-size="14.5" text-anchor="start" font-weight="bold" font-style="normal" fill="#111" textLength="25.0" lengthAdjust="spacingAndGlyphs" >o s</text>
<text x="1666.9" y="1164.6" font-size="24.5" text-anchor="start" font-weight="bold" font-style="italic" fill="#111" stroke="#cacaca" stroke-width="0.2" textLength="113.0" lengthAdjust="spacingAndGlyphs" >O. mykiss</text>
<text x="1815.9" y="1164.6" font-size="24.5" text-anchor="start" font-weight="bold" font-style="normal" fill="#111" stroke="#cacaca" stroke-width="0.2" textLength="113.5" lengthAdjust="spacingAndGlyphs" >0.56±0.01</text>
<text x="1937.9" y="1155.8" font-size="14.5" text-anchor="start" font-weight="bold" font-style="normal" fill="#111" textLength="25.0" lengthAdjust="spacingAndGlyphs" >s d</text>
</svg></body></html>
